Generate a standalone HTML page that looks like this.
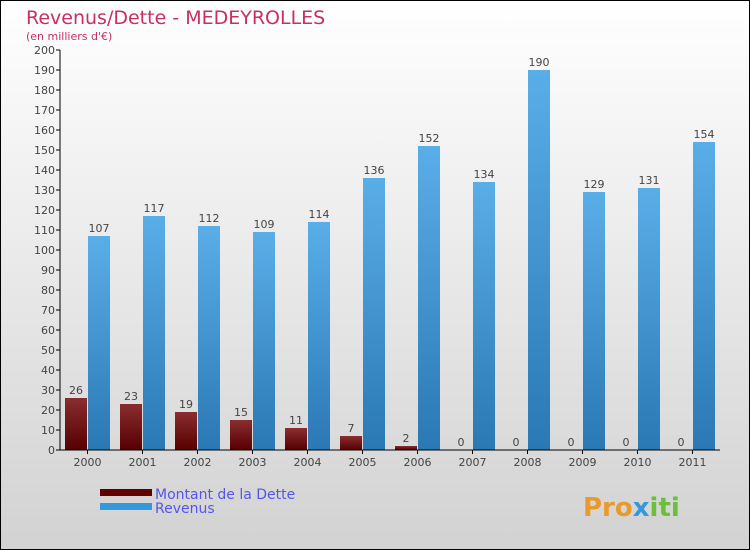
<!DOCTYPE html>
<html><head><meta charset="utf-8"><style>
body{margin:0}
svg{display:block;font-family:"DejaVu Sans","Liberation Sans",sans-serif}
</style></head><body>
<svg id="c" width="750" height="550" xmlns="http://www.w3.org/2000/svg">
<defs>
<linearGradient id="bg" x1="0" y1="0" x2="0" y2="1"><stop offset="0" stop-color="#ffffff"/><stop offset="1" stop-color="#d2d2d2"/></linearGradient>
<linearGradient id="gd" x1="0" y1="0" x2="0" y2="1"><stop offset="0" stop-color="#8a2d30"/><stop offset="1" stop-color="#560000"/></linearGradient>
<linearGradient id="gr" x1="0" y1="0" x2="0" y2="1"><stop offset="0" stop-color="#5aaee8"/><stop offset="1" stop-color="#2a78b4"/></linearGradient>
</defs>
<rect x="0.5" y="0.5" width="749" height="549" fill="url(#bg)" stroke="#000"/>
<text x="26" y="24" font-size="19" fill="#c8305f">Revenus/Dette - MEDEYROLLES</text>
<text x="26" y="40" font-size="11" fill="#c8305f">(en milliers d'€)</text>
<g id="plot"></g>
<rect x="100" y="489" width="52" height="7" fill="#600000"/>
<rect x="100" y="503" width="52" height="7" fill="#3399dd"/>
<text x="155" y="499" font-size="14" fill="#5555ee">Montant de la Dette</text>
<text x="155" y="513" font-size="14" fill="#5555ee">Revenus</text>
<text x="583" y="516" font-size="26" font-weight="bold" fill="#e89a2a">Pro<tspan fill="#3399dd">x</tspan><tspan fill="#6bbf3a">iti</tspan></text>
</svg>
<script>
const years=["2000","2001","2002","2003","2004","2005","2006","2007","2008","2009","2010","2011"];
const dette=[26,23,19,15,11,7,2,0,0,0,0,0];
const revenus=[107,117,112,109,114,136,152,134,190,129,131,154];
const yTicks=[0,10,20,30,40,50,60,70,80,90,100,110,120,130,140,150,160,170,180,190,200];
const NS="http://www.w3.org/2000/svg";
const g=document.getElementById('plot');
const x0=60,x1=720,y0=450,y1=50,ymax=200;
const y=v=>y0-(v/ymax)*(y0-y1);
const gw=(x1-x0)/years.length;
function mk(t,a){const e=document.createElementNS(NS,t);for(const k in a)e.setAttribute(k,a[k]);g.appendChild(e);return e;}
yTicks.forEach(v=>{
 const l=mk('line',{x1:x0-4,x2:x0,y1:y(v),y2:y(v),stroke:'#000'});
 
 
 const t=mk('text',{x:x0-5,y:y(v)+4,'font-size':11,fill:'#444','text-anchor':'end'});
 t.textContent=v;
 
 
});
years.forEach((yr,i)=>{
 const gx=x0+i*gw;
 const h1=y0-y(dette[i]);
 const b1=mk('rect',{x:gx+5,y:y(dette[i]),width:22,height:h1,fill:'url(#gd)'});
 
 
 const b2=mk('rect',{x:gx+28,y:y(revenus[i]),width:22,height:y0-y(revenus[i]),fill:'url(#gr)'});
 
 
 const t1=mk('text',{x:gx+16,y:y(dette[i])-4,'font-size':11,fill:'#444','text-anchor':'middle'});
 t1.textContent=dette[i];
 
 
 const t2=mk('text',{x:gx+39,y:y(revenus[i])-4,'font-size':11,fill:'#444','text-anchor':'middle'});
 t2.textContent=revenus[i];
 
 
 const tk=mk('line',{x1:gx+27.5,x2:gx+27.5,y1:y0,y2:y0+4,stroke:'#000'});
 
 
 const xl=mk('text',{x:gx+27.5,y:y0+16,'font-size':11,fill:'#444','text-anchor':'middle'});
 xl.textContent=yr;
 
 
});
const ax=mk('line',{x1:x0,x2:x0,y1:y1,y2:y0,stroke:'#000'});


const bx=mk('line',{x1:x0,x2:x1,y1:y0,y2:y0,stroke:'#000'});


</script>
</body></html>
